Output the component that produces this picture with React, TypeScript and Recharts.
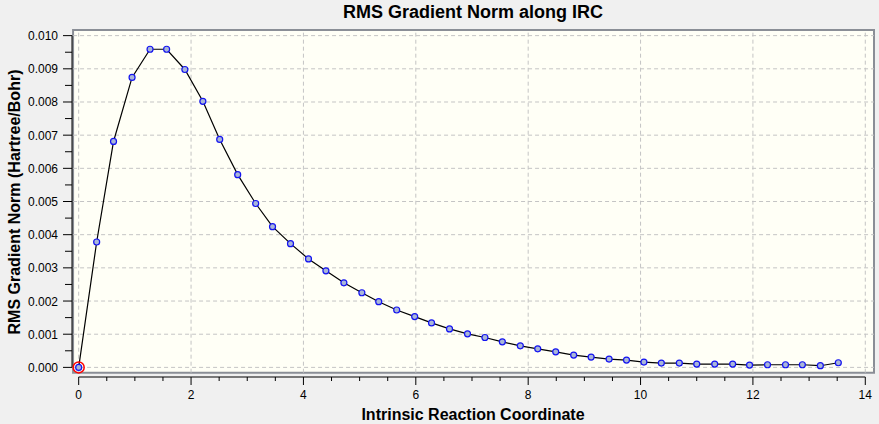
import React from "react";
import {
  LineChart,
  Line,
  XAxis,
  YAxis,
  ReferenceArea,
  ReferenceLine,
  Label,
} from "recharts";

// IRC points (reaction coordinate, RMS gradient norm).
const irc = [
  0, 0.32, 0.62, 0.95, 1.27, 1.565, 1.89, 2.21, 2.51, 2.83, 3.15, 3.45, 3.77,
  4.09, 4.4, 4.72, 5.04, 5.34, 5.66, 5.98, 6.28, 6.6, 6.92, 7.23, 7.54, 7.86,
  8.17, 8.49, 8.81, 9.12, 9.44, 9.75, 10.06, 10.37, 10.69, 11.0, 11.32, 11.64,
  11.94, 12.26, 12.58, 12.88, 13.2, 13.52,
];
const gradNorm = [
  0, 0.00378, 0.00681, 0.00874, 0.00959, 0.00959, 0.00898, 0.00802, 0.00687,
  0.00581, 0.00494, 0.00424, 0.00373, 0.00327, 0.00291, 0.00255, 0.00225,
  0.00198, 0.00173, 0.00153, 0.00134, 0.00116, 0.00101, 0.0009, 0.00077,
  0.00065, 0.00056, 0.00047, 0.00037, 0.00031, 0.00025, 0.00022, 0.00016,
  0.00013, 0.00013, 0.0001, 0.0001, 0.0001, 0.00007, 0.00008, 0.00008,
  0.00008, 0.00005, 0.00014,
];

const xMajorTicks = [0, 2, 4, 6, 8, 10, 12, 14];
const xAllTicks = [
  0, 0.5, 1, 1.5, 2, 2.5, 3, 3.5, 4, 4.5, 5, 5.5, 6, 6.5, 7, 7.5, 8, 8.5, 9,
  9.5, 10, 10.5, 11, 11.5, 12, 12.5, 13, 13.5, 14,
];
const yMajorTicks = [
  0, 0.001, 0.002, 0.003, 0.004, 0.005, 0.006, 0.007, 0.008, 0.009, 0.01,
];
const yAllTicks = [
  0, 0.0005, 0.001, 0.0015, 0.002, 0.0025, 0.003, 0.0035, 0.004, 0.0045,
  0.005, 0.0055, 0.006, 0.0065, 0.007, 0.0075, 0.008, 0.0085, 0.009, 0.0095,
  0.01,
];

const data = irc.map((x, i) => ({ irc: x, norm: gradNorm[i] }));

const X_DOMAIN: [number, number] = [-0.119, 14.155];
const Y_DOMAIN: [number, number] = [-0.00029, 0.01017];

const FONT = "'Liberation Sans', Arial, sans-serif";
const GRID = "#c4c4c4";

const isMajor = (v: number, list: number[]) =>
  list.some((m) => Math.abs(m - v) < 1e-9);

function XTick({ x, y, payload }: any) {
  const major = isMajor(payload.value, xMajorTicks);
  return (
    <g>
      <line x1={x} x2={x} y1={y} y2={y + (major ? 8 : 4)} stroke="#000" />
      {major && (
        <text x={x} y={y + 22} textAnchor="middle" fontSize={12} fill="#000" fontFamily={FONT}>
          {payload.value}
        </text>
      )}
    </g>
  );
}

function YTick({ x, y, payload }: any) {
  const major = isMajor(payload.value, yMajorTicks);
  return (
    <g>
      <line x1={x} x2={x - (major ? 9 : 7)} y1={y} y2={y} stroke="#000" />
      {major && (
        <text x={x - 14} y={y + 4.5} textAnchor="end" fontSize={12} fill="#000" fontFamily={FONT}>
          {payload.value.toFixed(3)}
        </text>
      )}
    </g>
  );
}

function Marker({ cx, cy, index }: any) {
  return (
    <g key={index}>
      {index === 0 && (
        <circle cx={cx} cy={cy} r={5.5} fill="none" stroke="#ff0000" strokeWidth={1.5} />
      )}
      <circle cx={cx} cy={cy} r={3} fill="#a9b6d8" stroke="#1414f0" strokeWidth={1.2} />
    </g>
  );
}

export default function App() {
  return (
    <div
      style={{
        position: "fixed",
        left: 0,
        top: 0,
        width: 879,
        height: 424,
        background: "#f0f0f0",
        fontFamily: FONT,
      }}
    >
      <div
        style={{
          position: "absolute",
          left: 72,
          width: 802,
          top: 2,
          textAlign: "center",
          fontSize: 18,
          lineHeight: "20px",
          fontWeight: "bold",
          color: "#000",
        }}
      >
        RMS Gradient Norm along IRC
      </div>
      <LineChart
        width={879}
        height={424}
        data={data}
        margin={{ top: 30, right: 5, bottom: 0, left: 0 }}
        style={{ position: "absolute", left: 0, top: 0 }}
      >
        <XAxis
          dataKey="irc"
          type="number"
          domain={X_DOMAIN}
          allowDataOverflow
          ticks={xAllTicks}
          interval={0}
          tick={<XTick />}
          tickLine={false}
          axisLine={false}
          tickSize={0}
          tickMargin={0}
          height={47}
        >
          <Label
            content={({ viewBox }: any) => (
              <text
                x={viewBox.x + viewBox.width / 2}
                y={420}
                textAnchor="middle"
                fontSize={16}
                fontWeight="bold"
                fontFamily={FONT}
                fill="#000"
              >
                Intrinsic Reaction Coordinate
              </text>
            )}
          />
        </XAxis>
        <YAxis
          type="number"
          domain={Y_DOMAIN}
          allowDataOverflow
          ticks={yAllTicks}
          interval={0}
          tick={<YTick />}
          tickLine={false}
          axisLine={false}
          tickSize={0}
          tickMargin={0}
          width={72}
        >
          <Label
            content={() => (
              <text
                x={20}
                y={202}
                transform="rotate(-90 20 202)"
                textAnchor="middle"
                fontSize={16}
                fontWeight="bold"
                fontFamily={FONT}
                fill="#000"
              >
                RMS Gradient Norm (Hartree/Bohr)
              </text>
            )}
          />
        </YAxis>

        {/* plot frame */}
        <ReferenceArea
          x1={-0.1}
          x2={14.155}
          y1={-0.00016}
          y2={0.01017}
          ifOverflow="visible"
          fill="#fffff6"
          fillOpacity={1}
          stroke="#8a8e96"
          strokeWidth={2}
        />

        {xMajorTicks.map((v) => (
          <ReferenceLine
            key={"vx" + v}
            segment={[
              { x: v, y: -0.00016 },
              { x: v, y: 0.01017 },
            ]}
            stroke={GRID}
            strokeDasharray="4 3"
            ifOverflow="visible"
          />
        ))}
        {yMajorTicks.map((v) => (
          <ReferenceLine
            key={"hy" + v}
            segment={[
              { x: -0.1, y: v },
              { x: 14.155, y: v },
            ]}
            stroke={GRID}
            strokeDasharray="4 3"
            ifOverflow="visible"
          />
        ))}

        {/* axis lines spanning the tick range */}
        <ReferenceLine
          segment={[
            { x: X_DOMAIN[0], y: 0 },
            { x: X_DOMAIN[0], y: 0.01 },
          ]}
          stroke="#000"
          ifOverflow="visible"
        />
        <ReferenceLine
          segment={[
            { x: 0, y: Y_DOMAIN[0] },
            { x: 14, y: Y_DOMAIN[0] },
          ]}
          stroke="#000"
          ifOverflow="visible"
        />

        <Line
          type="linear"
          dataKey="norm"
          stroke="#000"
          strokeWidth={1.2}
          dot={<Marker />}
          activeDot={false}
          isAnimationActive={false}
        />
      </LineChart>
    </div>
  );
}
